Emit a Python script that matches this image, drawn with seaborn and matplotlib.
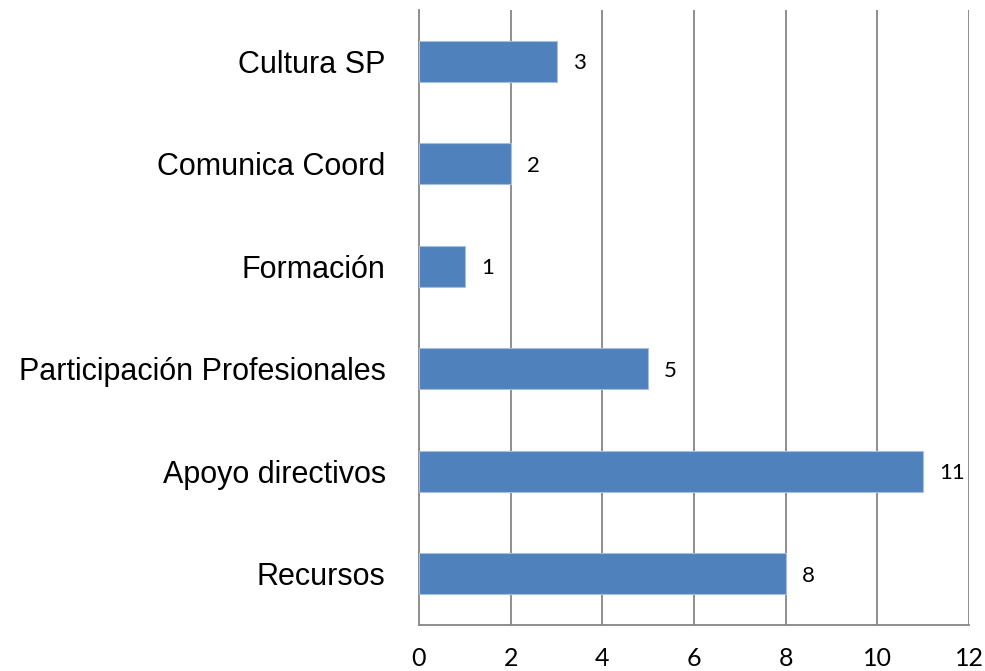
import matplotlib
matplotlib.use("Agg")
import matplotlib.pyplot as plt
import seaborn as sns
import pandas as pd
from matplotlib import font_manager

categories = ["Cultura SP", "Comunica Coord", "Formación",
              "Participación Profesionales", "Apoyo directivos", "Recursos"]
values = [3, 2, 1, 5, 11, 8]
xticks = [0, 2, 4, 6, 8, 10, 12]

sns.set_theme(style="white")
names = {f.name for f in font_manager.fontManager.ttflist}
narrow = "Liberation Sans Narrow" if "Liberation Sans Narrow" in names else "Liberation Sans"

df = pd.DataFrame({"cat": categories, "val": values})

fig = plt.figure(figsize=(9.85, 6.71), dpi=100)
ax = fig.add_axes([419/985, 1-625/671, (969-419)/985, (625-10)/671])

sns.barplot(data=df, x="val", y="cat", orient="h", color="#4F81BD",
            saturation=1, width=0.4, edgecolor="#A7BFDE", linewidth=0.8, ax=ax, zorder=3)

ax.set_xlim(0, 12)
ax.set_ylim(len(categories)-0.5, -0.5)
ax.set_xticks(xticks)
ax.set_xticklabels([str(t) for t in xticks], fontsize=18, family=["Lato", "DejaVu Sans"], color="black")
ax.set_xlabel("")
ax.set_ylabel("")
for x in xticks[1:]:
    ax.axvline(x, color="#868686", lw=1.3, zorder=1)

ax.set_yticks(range(len(categories)))
ax.set_yticklabels(categories, fontsize=22, family=[narrow, "DejaVu Sans"], color="black")
ax.tick_params(axis="y", length=0, pad=24)
ax.set_yticks([i - 0.5 for i in range(len(categories)+1)], minor=True)
ax.tick_params(axis="y", which="minor", length=7, width=1.3, color="#868686", direction="out")
ax.tick_params(axis="x", length=7, width=1.3, color="#868686", direction="out", pad=9)

for s in ["top", "right"]:
    ax.spines[s].set_visible(False)
for s in ["left", "bottom"]:
    ax.spines[s].set_color("#868686")
    ax.spines[s].set_linewidth(1.3)

for i, v in enumerate(values):
    ax.text(v + 0.35, i + 0.02, str(v), va="center", ha="left", fontsize=16,
            family=["Lato", "DejaVu Sans"], color="black")

fig.savefig("out.png", dpi=100)
